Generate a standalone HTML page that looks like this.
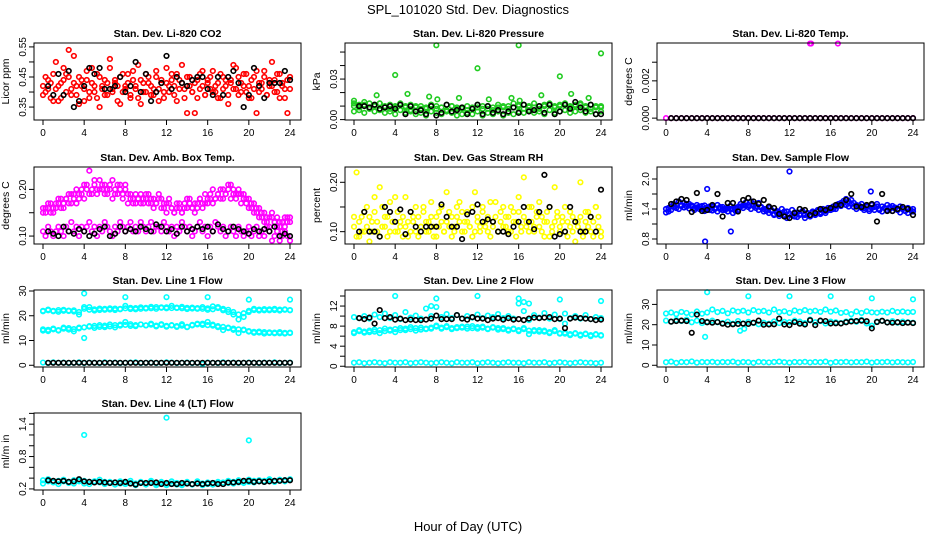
<!DOCTYPE html>
<html><head><meta charset="utf-8">
<style>
html,body{margin:0;padding:0;background:#fff;}
svg{display:block;font-family:"Liberation Sans",sans-serif;}
</style></head>
<body>
<svg id="chart" width="936" height="540" viewBox="0 0 936 540">
<rect x="0" y="0" width="936" height="540" fill="#fff"/>
<text x="468" y="14" font-size="13" text-anchor="middle">SPL_101020  Std. Dev. Diagnostics</text>
<text x="468" y="531" font-size="13" text-anchor="middle">Hour of Day (UTC)</text>
</svg>
<script>
// ---------- data ----------
const xTicks=[0,4,8,12,16,20,24];
const xTickLabels=["0","4","8","12","16","20","24"];

const co2A=[0.42,0.40,0.44,0.38,0.46,0.41,0.37,0.43,0.48,0.40,0.45,0.39,0.52,0.42,0.36,0.44,0.41,0.47,0.38,0.43,0.40,0.46,0.35,0.42,0.44,0.39,0.48,0.41,0.43,0.37,0.45,0.40,0.42,0.46,0.38,0.44,0.41,0.49,0.36,0.43,0.40,0.45,0.42,0.39,0.47,0.41,0.44,0.38,0.43,0.40,0.46,0.42,0.37,0.44,0.49,0.41,0.33,0.45,0.40,0.43,0.38,0.46,0.42,0.39,0.44,0.41,0.47,0.40,0.43,0.38,0.45,0.42,0.36,0.44,0.41,0.48,0.39,0.43,0.46,0.40,0.42,0.38,0.45,0.33,0.43,0.41,0.47,0.39,0.44,0.42,0.40,0.46,0.38,0.43,0.41,0.33,0.45];
const co2B=[0.39,0.45,0.41,0.43,0.37,0.50,0.42,0.38,0.44,0.46,0.54,0.41,0.43,0.39,0.45,0.42,0.37,0.44,0.40,0.48,0.42,0.38,0.45,0.41,0.39,0.43,0.51,0.40,0.44,0.42,0.36,0.46,0.41,0.43,0.39,0.47,0.42,0.38,0.44,0.40,0.46,0.43,0.39,0.41,0.45,0.37,0.43,0.40,0.48,0.42,0.44,0.39,0.46,0.41,0.43,0.38,0.45,0.42,0.40,0.33,0.44,0.41,0.47,0.39,0.43,0.45,0.40,0.42,0.38,0.46,0.41,0.44,0.39,0.43,0.49,0.41,0.45,0.40,0.42,0.46,0.38,0.44,0.41,0.47,0.40,0.43,0.45,0.39,0.42,0.50,0.44,0.40,0.46,0.42,0.38,0.44,0.41];
const co2Black=[0.42,0.39,0.46,0.39,0.47,0.35,0.37,0.42,0.48,0.46,0.48,0.41,0.41,0.42,0.45,0.40,0.42,0.50,0.40,0.46,0.37,0.40,0.43,0.52,0.41,0.45,0.43,0.42,0.44,0.45,0.45,0.41,0.39,0.45,0.39,0.45,0.47,0.43,0.35,0.39,0.48,0.42,0.38,0.43,0.43,0.43,0.47,0.44];
const co2Ticks=[0.35,0.40,0.45,0.50,0.55];
const co2Labels=["0.35","","0.45","","0.55"];

const pressA=[0.010,0.009,0.011,0.008,0.010,0.012,0.009,0.008,0.010,0.011,0.009,0.007,0.010,0.008,0.009,0.011,0.008,0.009,0.007,0.010,0.008,0.009,0.007,0.008,0.009,0.010,0.008,0.007,0.009,0.010,0.008,0.009,0.011,0.008,0.010,0.009,0.008,0.010,0.011,0.009,0.010,0.012,0.009,0.010,0.011,0.009,0.008,0.010,0.009];
const pressB=[0.006,0.007,0.005,0.008,0.006,0.007,0.005,0.006,0.004,0.007,0.005,0.006,0.004,0.005,0.003,0.006,0.005,0.004,0.006,0.005,0.003,0.004,0.005,0.004,0.006,0.003,0.005,0.004,0.006,0.003,0.005,0.004,0.006,0.005,0.007,0.005,0.006,0.004,0.007,0.005,0.006,0.007,0.005,0.006,0.007,0.005,0.006,0.004,0.006];
const pressC=[0.012,0.011,0.013,0.012,0.011,0.012,0.010,0.011,0.009,0.012,0.010,0.011,0.009,0.010,0.008,0.011,0.010,0.009,0.011,0.010,0.009,0.008,0.010,0.009,0.011,0.008,0.010,0.009,0.011,0.009,0.010,0.012,0.010,0.011,0.009,0.012,0.010,0.011,0.012,0.010,0.011,0.012,0.010,0.011,0.012,0.010,0.011,0.009,0.010];
const pressOutHours=[0,2.2,4,5.2,7.3,8,8.1,10.2,12,13.1,15.3,16,16.1,18.2,20,21.1,22.8,24];
const pressOutVals=[0.014,0.018,0.033,0.019,0.017,0.055,0.015,0.016,0.038,0.015,0.016,0.055,0.014,0.018,0.032,0.019,0.016,0.049];
const pressBlack=[0.010,0.010,0.009,0.011,0.008,0.009,0.010,0.008,0.011,0.004,0.010,0.006,0.007,0.004,0.010,0.003,0.005,0.011,0.006,0.007,0.009,0.004,0.008,0.011,0.004,0.010,0.005,0.007,0.004,0.006,0.009,0.005,0.011,0.006,0.007,0.010,0.005,0.011,0.004,0.006,0.011,0.008,0.013,0.009,0.006,0.011,0.004,0.004];
const pressTicks=[0,0.01,0.02,0.03,0.04,0.05];
const pressLabels=["0.00","","","0.03","",""];

const tempVals=[0,0,0,0,0,0,0,0,0,0,0,0,0,0,0,0,0,0,0,0,0,0,0,0,0,0,0,0,0,0,0,0,0,0,0,0,0,0,0,0,0,0,0,0,0,0,0,0,0];
const tempOutHours=[14,14.1,16.7];
const tempOutVals=[0.004,0.004,0.004];
const tempBlack=[0,0,0,0,0,0,0,0,0,0,0,0,0,0,0,0,0,0,0,0,0,0,0,0,0,0,0,0,0,0,0,0,0,0,0,0,0,0,0,0,0,0,0,0,0,0,0,0];
const tempTicks=[0,0.001,0.002,0.003];
const tempLabels=["0.000","","0.002",""];

const ambHigh=[0.15,0.16,0.17,0.15,0.16,0.17,0.18,0.16,0.17,0.18,0.17,0.19,0.18,0.17,0.19,0.20,0.18,0.21,0.19,0.20,0.22,0.19,0.20,0.21,0.19,0.20,0.21,0.18,0.20,0.19,0.21,0.18,0.20,0.19,0.18,0.17,0.19,0.18,0.17,0.18,0.19,0.17,0.18,0.16,0.17,0.19,0.18,0.16,0.17,0.18,0.16,0.15,0.17,0.16,0.15,0.16,0.18,0.17,0.16,0.15,0.17,0.18,0.16,0.17,0.18,0.19,0.17,0.18,0.19,0.20,0.18,0.19,0.20,0.21,0.19,0.18,0.20,0.19,0.18,0.17,0.18,0.16,0.17,0.15,0.16,0.14,0.15,0.13,0.14,0.15,0.13,0.14,0.12,0.13,0.14,0.13,0.14];
const ambHigh2=[0.16,0.15,0.16,0.17,0.15,0.16,0.17,0.18,0.16,0.18,0.19,0.17,0.19,0.20,0.18,0.19,0.21,0.20,0.24,0.19,0.21,0.20,0.22,0.20,0.21,0.19,0.20,0.22,0.19,0.21,0.20,0.19,0.21,0.17,0.19,0.18,0.17,0.18,0.19,0.17,0.18,0.19,0.17,0.18,0.17,0.18,0.16,0.17,0.15,0.17,0.16,0.15,0.16,0.17,0.15,0.17,0.16,0.18,0.16,0.17,0.16,0.18,0.17,0.19,0.17,0.18,0.20,0.18,0.19,0.18,0.20,0.19,0.21,0.18,0.20,0.19,0.19,0.17,0.19,0.18,0.16,0.17,0.15,0.16,0.14,0.15,0.13,0.14,0.12,0.14,0.13,0.12,0.13,0.11,0.12,0.14,0.13];
const ambLow=[0.11,0.10,0.12,0.11,0.10,0.11,0.12,0.11,0.10,0.12,0.11,0.13,0.11,0.12,0.10,0.12,0.11,0.12,0.13,0.11,0.12,0.10,0.12,0.11,0.13,0.12,0.11,0.10,0.12,0.11,0.13,0.12,0.11,0.12,0.13,0.11,0.12,0.11,0.13,0.12,0.11,0.12,0.13,0.11,0.12,0.12,0.11,0.13,0.12,0.11,0.12,0.10,0.12,0.11,0.13,0.12,0.11,0.12,0.10,0.11,0.12,0.13,0.11,0.12,0.10,0.12,0.11,0.13,0.12,0.11,0.12,0.10,0.11,0.12,0.11,0.10,0.12,0.11,0.10,0.11,0.12,0.10,0.11,0.12,0.10,0.11,0.10,0.12,0.11,0.09,0.10,0.11,0.09,0.10,0.11,0.10,0.09];
const ambBlack=[0.11,0.105,0.10,0.12,0.11,0.105,0.115,0.11,0.10,0.105,0.115,0.12,0.10,0.105,0.12,0.11,0.115,0.11,0.12,0.115,0.11,0.125,0.12,0.11,0.115,0.105,0.12,0.11,0.115,0.12,0.115,0.12,0.11,0.125,0.115,0.11,0.12,0.115,0.11,0.105,0.115,0.11,0.115,0.11,0.12,0.10,0.105,0.10];
const ambTicks=[0.10,0.15,0.20];
const ambLabels=["0.10","","0.20"];

const rhA=[0.11,0.22,0.09,0.13,0.10,0.15,0.08,0.12,0.14,0.10,0.19,0.11,0.13,0.09,0.16,0.12,0.10,0.14,0.11,0.09,0.17,0.12,0.10,0.13,0.15,0.09,0.11,0.14,0.10,0.12,0.16,0.09,0.13,0.11,0.15,0.10,0.12,0.14,0.09,0.11,0.13,0.16,0.10,0.12,0.14,0.11,0.09,0.18,0.12,0.10,0.15,0.11,0.13,0.09,0.12,0.16,0.10,0.14,0.11,0.13,0.10,0.15,0.12,0.09,0.14,0.11,0.21,0.12,0.10,0.15,0.11,0.13,0.16,0.10,0.12,0.14,0.09,0.11,0.19,0.13,0.10,0.12,0.15,0.09,0.11,0.13,0.08,0.12,0.20,0.10,0.14,0.11,0.13,0.09,0.15,0.11,0.09];
const rhB=[0.13,0.09,0.12,0.10,0.14,0.11,0.13,0.10,0.17,0.12,0.09,0.15,0.11,0.13,0.10,0.12,0.17,0.10,0.12,0.13,0.11,0.09,0.14,0.12,0.10,0.13,0.11,0.15,0.12,0.10,0.13,0.11,0.09,0.14,0.12,0.10,0.18,0.11,0.13,0.10,0.15,0.12,0.14,0.10,0.12,0.11,0.15,0.10,0.13,0.11,0.14,0.12,0.10,0.16,0.11,0.13,0.10,0.12,0.15,0.11,0.13,0.10,0.14,0.12,0.17,0.10,0.13,0.11,0.15,0.12,0.10,0.14,0.11,0.13,0.09,0.12,0.15,0.10,0.12,0.14,0.11,0.13,0.10,0.12,0.14,0.10,0.12,0.11,0.13,0.09,0.12,0.14,0.10,0.12,0.15,0.13,0.10];
const rhBlack=[0.10,0.14,0.10,0.10,0.09,0.15,0.14,0.12,0.145,0.095,0.14,0.11,0.10,0.11,0.11,0.11,0.155,0.13,0.11,0.11,0.085,0.135,0.14,0.155,0.12,0.125,0.12,0.10,0.10,0.095,0.11,0.12,0.15,0.12,0.105,0.14,0.215,0.15,0.09,0.095,0.10,0.15,0.12,0.10,0.10,0.13,0.10,0.185];
const rhTicks=[0.10,0.15,0.20];
const rhLabels=["0.10","","0.20"];

const flowA=[1.40,1.35,1.45,1.50,1.42,1.55,1.48,1.52,1.45,1.50,1.47,1.42,1.48,1.45,1.40,1.47,1.43,1.38,1.45,1.42,1.48,1.40,1.44,1.38,1.42,1.46,1.40,1.36,1.44,1.50,1.47,1.53,1.48,1.55,1.50,1.46,1.52,1.44,1.40,1.36,1.42,1.38,1.30,1.36,1.33,1.40,1.28,1.35,1.30,1.38,1.25,1.33,1.30,1.36,1.28,1.32,1.25,1.35,1.30,1.38,1.33,1.40,1.36,1.42,1.38,1.45,1.40,1.48,1.52,1.56,1.60,1.55,1.58,1.52,1.48,1.45,1.50,1.42,1.46,1.40,1.48,1.44,1.50,1.38,1.45,1.42,1.48,1.40,1.46,1.43,1.38,1.45,1.40,1.36,1.42,1.38,1.40];
const flowB=[1.33,1.42,1.38,1.44,1.48,1.40,1.46,1.43,1.50,1.41,1.45,1.38,1.43,1.40,1.46,1.36,1.42,1.45,1.37,1.40,1.35,1.44,1.38,1.41,1.35,1.40,1.32,1.42,1.38,1.45,1.42,1.47,1.44,1.40,1.46,1.42,1.38,1.43,1.35,1.40,1.32,1.36,1.28,1.33,1.26,1.31,1.35,1.22,1.30,1.27,1.33,1.24,1.28,1.35,1.22,1.30,1.27,1.32,1.28,1.35,1.30,1.36,1.32,1.38,1.42,1.40,1.45,1.50,1.46,1.52,1.48,1.45,1.50,1.44,1.40,1.47,1.42,1.38,1.44,1.36,1.42,1.38,1.45,1.40,1.35,1.42,1.38,1.44,1.36,1.41,1.38,1.33,1.40,1.36,1.32,1.38,1.35];
const flowOutHours=[3.8,4.0,6.3,12.0,19.9];
const flowOutVals=[0.75,1.80,0.95,2.15,1.75];
const flowBlack=[1.50,1.55,1.60,1.58,1.34,1.72,1.36,1.38,1.48,1.70,1.25,1.52,1.52,1.35,1.58,1.62,1.55,1.50,1.58,1.45,1.42,1.30,1.25,1.22,1.32,1.40,1.38,1.28,1.32,1.40,1.38,1.42,1.48,1.48,1.58,1.70,1.45,1.44,1.48,1.50,1.15,1.70,1.36,1.36,1.40,1.44,1.40,1.28];
const flowTicks=[0.8,1.1,1.4,1.7,2.0];
const flowLabels=["0.8","","1.4","","2.0"];

const l1Top=[22,22.2,21.8,22.3,22,21.9,22.2,21.5,23.5,22.4,22.6,22.3,22.8,22.5,22.9,22.6,23,22.7,23.1,22.8,23.2,23,23.5,23.2,23.4,23.1,23.3,23,23.2,22.9,23.1,22.8,23,22.6,23.5,22.8,22.4,21.5,20.5,19.5,21.5,22.3,22.5,22.2,22.6,22.3,22.5,22.4,22.3];
const l1TopB=[21.8,22.5,22,21.6,22.4,22.1,21.7,20.5,22.8,23.5,22.1,22.9,22.4,23,22.3,22.8,24,23.2,22.6,23.4,22.9,23.6,22.8,23.4,23,24,23.1,23.6,22.7,23.3,22.8,23.5,22.4,23.8,23.1,22.2,21.5,20.5,18.5,21,22,22.8,22.1,22.7,22.2,22.8,22.1,22.6,22.2];
const l1Mid=[14,14.3,14.5,14.2,14.8,15,14.6,15.2,15.3,15.6,15.9,15.5,16,15.7,16.2,16,16.3,15.9,16.2,16.5,16.1,16.4,16,16.3,15.9,16.2,15.8,16,15.5,16.3,16.5,16.8,16.2,16.4,15.8,15.5,15.2,14.8,14.5,14.2,13.8,13.5,13.2,13.4,13,13.2,12.9,13.1,13];
const l1MidB=[14.5,13.8,14.8,14,15.2,14.4,13.7,14.9,11,15.8,15.1,16.2,15.4,16.5,15.3,16.4,17.5,16.6,15.8,16.5,16.1,16.8,15.7,16.6,15.6,16.1,15.5,16.6,15.4,16.1,16.8,16.3,17.5,16,15.4,14.2,15,14.3,13,14.4,13.6,13.1,13.6,12.8,13.3,12.9,13.4,12.8,13.2];
const l1Low=[1.1,0.9,1.2,1.0,1.1,0.9,1.0,1.2,0.9,1.1,1.0,0.9,1.2,1.0,1.1,0.9,1.0,1.1,1.2,0.9,1.0,1.1,0.9,1.0,1.2,1.1,0.9,1.0,1.1,0.9,1.0,0.5,1.1,1.0,0.9,1.2,1.0,1.1,0.9,1.0,1.1,1.0,0.9,1.1,1.0,1.2,0.9,1.0,1.1];
const l1OutHours=[4,8,12,16,20,24];
const l1OutVals=[29,27.5,27.5,27.5,26.5,26.5];
const l1Black=[1,1,1,1,1,1,1,1,1,1,1,1,1,1,1,1,1,1,1,1,1,1,1,1,1,1,1,1,1,1,1,1,1,1,1,1,1,1,1,1,1,1,1,1,1,1,1,1];
const l1Ticks=[0,10,20,30];
const l1Labels=["0","10","20","30"];

const l2Top=[9.8,9.6,10,9.5,10.3,9.8,10.5,9.6,10.2,9.4,10.8,9.7,10.1,9.5,11.5,10,11.8,9.8,10.4,9.6,10.2,9.5,10,9.7,10.3,9.6,10.1,9.8,10.4,9.6,10,9.5,12.5,11,9.2,10.2,9.7,10.6,9.5,10.3,9.4,10.5,9.6,10,9.5,10.2,9.4,9.8,9.6];
const l2Mid=[6.8,7,6.7,7.1,6.9,7.2,7,7.3,7.4,7.2,7.5,7.4,7.6,7.3,7.5,7.7,7.9,7.7,7.8,7.6,7.8,7.7,7.9,7.6,7.8,7.7,7.5,7.7,7.6,7.4,7.3,7.5,7.2,7.4,7.1,7,7.2,6.9,6.8,7,6.6,6.5,6.4,6.5,6.3,6.4,6.2,6.3,6.2];
const l2MidB=[6.6,7.2,6.9,6.8,7.3,6.6,7.5,7.1,6.8,7.6,7.2,7.8,7.1,7.7,7.4,7.5,8.1,7.5,8,7.4,7.6,7.9,7.5,8.0,7.5,7.9,7.4,7.8,7.3,7.6,7.1,7.4,7.0,7.6,6.4,7.2,6.9,7.1,6.6,7.2,6.5,6.7,6.2,6.6,6.1,6.5,6.0,6.4,6.1];
const l2Low=[0.7,0.8,0.6,0.7,0.8,0.7,0.6,0.8,0.7,0.7,0.8,0.6,0.7,0.8,0.7,0.6,0.7,0.8,0.7,0.6,0.8,0.7,0.7,0.8,0.6,0.7,0.8,0.7,0.6,0.7,0.8,0.7,0.7,0.6,0.8,0.7,0.7,0.8,0.6,0.7,0.8,0.7,0.6,0.7,0.8,0.7,0.7,0.6,0.7];
const l2OutHours=[4,7.5,8,12,16,16.5,17,20,20.5,24];
const l2OutVals=[14,12,13.5,14,13.5,12.8,12.5,13.3,8.5,13];
const l2Black=[9.6,9.4,9.7,8.5,11.2,9.6,9.8,9.3,9.5,9.2,9.3,9.2,9.2,9.3,9.5,10.1,9.4,9.4,9.4,10.2,9.5,9.3,9.8,9.5,9.5,9.2,9.5,9.6,9.3,9.6,9.3,9.4,9.2,9.5,9.7,9.6,9.7,9.8,9.4,9.5,7.6,9.5,9.7,9.6,9.5,9.4,9.2,9.3];
const l2Ticks=[0,2,4,6,8,10,12,14];
const l2Labels=["0","","4","","8","","12",""];

const l3Top=[25.5,26,25.2,26.3,25.8,25,26.5,25.4,26,27.5,26.2,26.8,25.6,27,26.4,26.9,26,27.2,26.5,26.8,26,27.5,26.2,26.6,25.8,27,26.4,27.2,26.5,26.9,26.3,27.5,26.4,27,25.8,26.2,25.2,26.5,25.8,26.6,26.1,25.9,26.4,26,26.8,26.2,26.5,26.1,26.3];
const l3Mid=[22,21.5,22.3,21.8,22.5,21.2,22,20.8,21.5,22,21.2,20.8,21.5,20.5,21.8,20.6,21.4,20.8,20.2,21,20.5,21.6,20.8,21.4,21.2,22,21.5,20.8,22.5,21.2,21.8,20.6,21.5,21.2,20.8,21.6,22,21.4,22.4,20.6,19.5,21.6,22,21.2,21.8,21,21.5,21.2,21];
const l3Low=[1.5,1.8,1.2,1.6,1.5,1.9,1.3,1.6,1.5,1.7,1.4,1.6,1.5,1.8,1.3,1.6,1.5,1.2,1.7,1.5,1.4,1.6,1.8,1.5,1.3,1.6,1.5,1.7,1.4,1.6,1.5,1.8,1.2,1.6,1.5,1.7,1.4,1.6,1.5,1.8,1.3,1.6,1.5,1.7,1.4,1.6,1.5,1.4,1.6];
const l3OutHours=[4,8,12,16,20,24,3.8,7.2,7.6];
const l3OutVals=[36,34,34,34,33,32.5,14,17,18];
const l3Black=[21.5,21.8,22,21.8,16,25,21.8,21.2,21,21.3,20.5,20,20.2,20.4,20.5,20.4,21,22,20,20.1,20.2,23,20.1,19.8,21.3,20.5,20.1,22.2,19.8,22,21.8,20.6,20.7,20.6,21.2,21.6,21.8,22,21.7,18.2,21.3,21.9,21.1,21,21.2,20.8,21,20.8];
const l3Ticks=[0,10,20,30];
const l3Labels=["0","10","20","30"];

const l4A=[0.36,0.34,0.33,0.35,0.34,0.33,0.36,0.34,0.35,0.33,0.34,0.32,0.33,0.31,0.32,0.30,0.32,0.31,0.30,0.31,0.30,0.32,0.30,0.31,0.29,0.30,0.31,0.29,0.30,0.29,0.31,0.30,0.29,0.31,0.30,0.32,0.31,0.33,0.32,0.34,0.33,0.35,0.34,0.35,0.36,0.35,0.37,0.36,0.37];
const l4B=[0.30,0.38,0.32,0.29,0.37,0.31,0.30,0.36,0.30,0.29,0.34,0.37,0.29,0.33,0.28,0.34,0.29,0.35,0.27,0.33,0.28,0.35,0.27,0.33,0.27,0.34,0.28,0.27,0.33,0.28,0.34,0.27,0.32,0.28,0.33,0.29,0.35,0.30,0.36,0.31,0.37,0.32,0.36,0.33,0.38,0.33,0.36,0.34,0.38];
const l4OutHours=[4,12,20];
const l4OutVals=[1.2,1.52,1.1];
const l4Black=[0.36,0.35,0.34,0.35,0.33,0.34,0.38,0.34,0.33,0.32,0.33,0.32,0.31,0.32,0.31,0.33,0.30,0.28,0.31,0.31,0.31,0.32,0.29,0.31,0.29,0.29,0.31,0.30,0.29,0.30,0.29,0.30,0.31,0.29,0.29,0.32,0.32,0.33,0.35,0.35,0.33,0.34,0.33,0.34,0.35,0.35,0.36,0.36];
const l4Ticks=[0.2,0.4,0.6,0.8,1.0,1.2,1.4,1.6];
const l4Labels=["0.2","","","0.8","","","1.4",""];

// ---------- drawing ----------
const NS="http://www.w3.org/2000/svg";
const svg=document.getElementById("chart");
const colX=[34,345,657], rowY=[43,167,290,413], W=267, H=77;
function mk(tag,attrs,parent){const e=document.createElementNS(NS,tag);for(const k in attrs)e.setAttribute(k,attrs[k]);(parent||svg).appendChild(e);return e;}

function panel(o){
  const x0=colX[o.col], y0=rowY[o.row];
  const g=mk("g",{});
  
  
  const sx=h=>x0+9+h*(247/24);
  const sy=v=>y0+H-(v-o.ymin)/(o.ymax-o.ymin)*H;
  const t=mk("text",{x:x0+W/2,y:y0-6,"font-size":10.5,"font-weight":"bold","text-anchor":"middle"},g);
  t.textContent=o.title;
  
  
  const yl=mk("text",{x:0,y:0,"font-size":10.5,"text-anchor":"middle",transform:`translate(${x0-25},${y0+H/2}) rotate(-90)`},g);
  yl.textContent=o.ylab;
  
  
  const pts=mk("g",{fill:"none","stroke-width":1.6},g);
  
  
  function series(vals,hours,color,nm){
    vals.forEach((v,i)=>{
      const c=mk("circle",{cx:sx(hours[i]),cy:sy(v),r:2.3,stroke:color},pts);
      
      
    });
  }
  o.series.forEach(s=>{
    let hrs=s.hours;
    if(!hrs){ const n=s.vals.length; hrs=s.vals.map((_,i)=> s.black ? (i+1)*24/n : i*24/(n-1)); }
    series(s.vals,hrs,s.color,o.name+(s.black?'-black-point':'-point'));
  });
  const b=mk("rect",{x:x0,y:y0,width:W,height:H,fill:"none",stroke:"#000","stroke-width":1},g);
  
  
  xTicks.forEach((h,i)=>{
    mk("line",{x1:sx(h),x2:sx(h),y1:y0+H,y2:y0+H+5,stroke:"#000"},g);
    const tl=mk("text",{x:sx(h),y:y0+H+16,"font-size":10,"text-anchor":"middle"},g);
    tl.textContent=xTickLabels[i];
    
    
  });
  o.ticks.forEach((v,i)=>{
    mk("line",{x1:x0-5,x2:x0,y1:sy(v),y2:sy(v),stroke:"#000"},g);
    if(o.labels[i]){
      const tl=mk("text",{x:0,y:0,"font-size":10,"text-anchor":"middle",transform:`translate(${x0-8},${sy(v)}) rotate(-90)`},g);
      tl.textContent=o.labels[i];
      
      
    }
  });
}

const RED="#ff0000",GRN="#22cc22",MAG="#ff00ff",YEL="#ffff00",BLU="#0000ff",CYN="#00ffff",BLK="#000000";
panel({name:"co2",col:0,row:0,title:"Stan. Dev. Li-820 CO2",ylab:"Licor ppm",ymin:0.307,ymax:0.563,ticks:co2Ticks,labels:co2Labels,
  series:[{vals:co2A,color:RED},{vals:co2B,color:RED},{vals:co2Black,color:BLK,black:true}]});
panel({name:"pressure",col:1,row:0,title:"Stan. Dev. Li-820 Pressure",ylab:"kPa",ymin:-0.0003,ymax:0.0567,ticks:pressTicks,labels:pressLabels,
  series:[{vals:pressA,color:GRN},{vals:pressB,color:GRN},{vals:pressC,color:GRN},{vals:pressOutVals,hours:pressOutHours,color:GRN},{vals:pressBlack,color:BLK,black:true}]});
panel({name:"li820-temp",col:2,row:0,title:"Stan. Dev. Li-820 Temp.",ylab:"degrees C",ymin:-0.0001,ymax:0.00403,ticks:tempTicks,labels:tempLabels,
  series:[{vals:tempVals,color:MAG},{vals:tempOutVals,hours:tempOutHours,color:MAG},{vals:tempBlack,color:BLK,black:true}]});
panel({name:"amb-box-temp",col:0,row:1,title:"Stan. Dev. Amb. Box Temp.",ylab:"degrees C",ymin:0.083,ymax:0.248,ticks:ambTicks,labels:ambLabels,
  series:[{vals:ambHigh,color:MAG},{vals:ambHigh2,color:MAG},{vals:ambLow,color:MAG},{vals:ambBlack,color:BLK,black:true}]});
panel({name:"gas-stream-rh",col:1,row:1,title:"Stan. Dev. Gas Stream RH",ylab:"percent",ymin:0.075,ymax:0.231,ticks:rhTicks,labels:rhLabels,
  series:[{vals:rhA,color:YEL},{vals:rhB,color:YEL},{vals:rhBlack,color:BLK,black:true}]});
panel({name:"sample-flow",col:2,row:1,title:"Stan. Dev. Sample Flow",ylab:"ml/min",ymin:0.7,ymax:2.24,ticks:flowTicks,labels:flowLabels,
  series:[{vals:flowA,color:BLU},{vals:flowB,color:BLU},{vals:flowOutVals,hours:flowOutHours,color:BLU},{vals:flowBlack,color:BLK,black:true}]});
panel({name:"line1-flow",col:0,row:2,title:"Stan. Dev. Line 1 Flow",ylab:"ml/min",ymin:-0.7,ymax:30.4,ticks:l1Ticks,labels:l1Labels,
  series:[{vals:l1Top,color:CYN},{vals:l1TopB,color:CYN},{vals:l1Mid,color:CYN},{vals:l1MidB,color:CYN},{vals:l1Low,color:CYN},{vals:l1OutVals,hours:l1OutHours,color:CYN},{vals:l1Black,color:BLK,black:true}]});
panel({name:"line2-flow",col:1,row:2,title:"Stan. Dev. Line 2 Flow",ylab:"ml/min",ymin:-0.15,ymax:15.2,ticks:l2Ticks,labels:l2Labels,
  series:[{vals:l2Top,color:CYN},{vals:l2Mid,color:CYN},{vals:l2MidB,color:CYN},{vals:l2Low,color:CYN},{vals:l2OutVals,hours:l2OutHours,color:CYN},{vals:l2Black,color:BLK,black:true}]});
panel({name:"line3-flow",col:2,row:2,title:"Stan. Dev. Line 3 Flow",ylab:"ml/min",ymin:-0.85,ymax:37.1,ticks:l3Ticks,labels:l3Labels,
  series:[{vals:l3Top,color:CYN},{vals:l3Mid,color:CYN},{vals:l3Low,color:CYN},{vals:l3OutVals,hours:l3OutHours,color:CYN},{vals:l3Black,color:BLK,black:true}]});
panel({name:"line4-flow",col:0,row:3,title:"Stan. Dev. Line 4 (LT) Flow",ylab:"ml/m in",ymin:0.18,ymax:1.607,ticks:l4Ticks,labels:l4Labels,
  series:[{vals:l4A,color:CYN},{vals:l4B,color:CYN},{vals:l4OutVals,hours:l4OutHours,color:CYN},{vals:l4Black,color:BLK,black:true}]});
</script>
</body></html>
